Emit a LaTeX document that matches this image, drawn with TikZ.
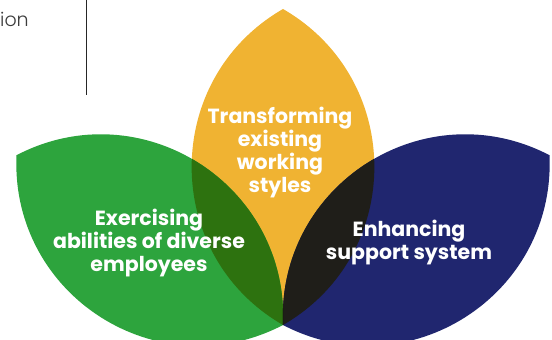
\documentclass[tikz,border=0pt]{standalone}
\usepackage{fontspec}
\setmainfont{Poppins}
\newfontfamily\popbold{Poppins Bold}
\newfontfamily\poplight{Poppins Light}
\definecolor{petalY}{HTML}{F0B332}
\definecolor{petalG}{HTML}{2DA43D}
\definecolor{petalB}{HTML}{20266F}
\definecolor{overGY}{HTML}{2D720F}
\definecolor{overYB}{HTML}{1F1E19}
\definecolor{overGB}{HTML}{061206}
\definecolor{ionGray}{HTML}{3C3C3C}
\tikzset{
  lens/.style={insert path={(0,0) .. controls (121.8,70.3) and (121.8,245.7) .. (0,316) .. controls (-121.8,245.7) and (-121.8,70.3) .. (0,0) -- cycle}},
  atY/.style={shift={(283,15)}},
  atG/.style={shift={(283,15)},rotate=57.5},
  atB/.style={shift={(283,15)},rotate=-57.5},
  lbl/.style={text=white, align=center, inner sep=0pt, font=\popbold\fontsize{20.5}{23.3}\selectfont}
}
\begin{document}
\begin{tikzpicture}[x=1pt,y=1pt]
\useasboundingbox (0,0) rectangle (552,340);
% petals
\fill[petalY, atY, lens];
\fill[petalG, atG, lens];
\fill[petalB, atB, lens];
% overlaps
\begin{scope}
  \clip[atG, lens];
  \fill[overGY, atY, lens];
\end{scope}
\begin{scope}
  \clip[atB, lens];
  \fill[overYB, atY, lens];
\end{scope}
\begin{scope}
  \clip[atB, lens];
  \fill[overGB, atG, lens];
\end{scope}
% labels (anchor base = baseline of the last line)
\node[lbl, anchor=base] (ty) at (280,147) {Transforming\\existing\\working\\styles};
\node[lbl, anchor=base] (tg) at (149,68.3) {Exercising\\abilities of diverse\\employees};
\node[lbl, anchor=base] (tb) at (409,80) {Enhancing\\support system};
% top-left fragment
\node[anchor=base west, inner sep=0pt, text=ionGray, font=\poplight\fontsize{19}{23}\selectfont] (ion) at (0,313) {ion};
\coordinate (lt) at (86,340);
\coordinate (lb) at (86,245);
\draw[line width=0.9pt, black!85] (lt) -- (lb);
\end{tikzpicture}
\end{document}
